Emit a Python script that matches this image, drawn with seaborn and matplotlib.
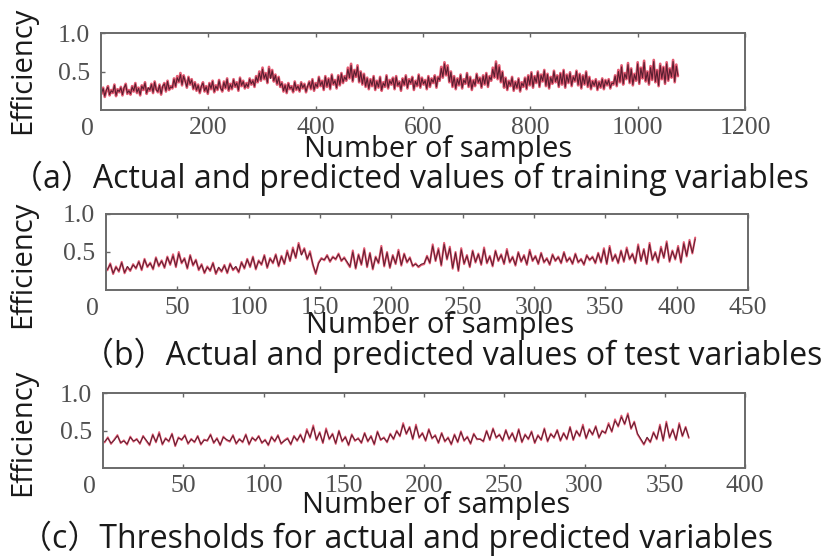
import numpy as np
import pandas as pd
import matplotlib
matplotlib.use("Agg")
import matplotlib.pyplot as plt
import seaborn as sns

# ---------------- data ----------------
step_a = 3
actual_a = [0.21, 0.29, 0.17, 0.25, 0.31, 0.19, 0.26, 0.22, 0.33, 0.18,
            0.27, 0.23, 0.30, 0.19, 0.28, 0.34, 0.21, 0.26, 0.20, 0.31,
            0.24, 0.35, 0.22, 0.29, 0.19, 0.32, 0.26, 0.36, 0.21, 0.28,
            0.25, 0.34, 0.22, 0.37, 0.27, 0.23, 0.33, 0.20, 0.30, 0.35,
            0.24, 0.38, 0.26, 0.31, 0.28, 0.41, 0.30, 0.44, 0.36, 0.48,
            0.32, 0.45, 0.38, 0.29, 0.43, 0.33, 0.40, 0.27, 0.36, 0.25,
            0.33, 0.22, 0.30, 0.36, 0.24, 0.31, 0.21, 0.35, 0.27, 0.38,
            0.23, 0.32, 0.26, 0.39, 0.29, 0.24, 0.37, 0.28, 0.41, 0.25,
            0.34, 0.27, 0.40, 0.30, 0.36, 0.25, 0.42, 0.31, 0.38, 0.28,
            0.35, 0.29, 0.41, 0.33, 0.39, 0.30, 0.44, 0.36, 0.50, 0.38,
            0.55, 0.40, 0.48, 0.35, 0.56, 0.42, 0.52, 0.37, 0.46, 0.33,
            0.43, 0.30, 0.36, 0.24, 0.33, 0.22, 0.35, 0.27, 0.31, 0.23,
            0.37, 0.26, 0.32, 0.24, 0.36, 0.28, 0.34, 0.23, 0.30, 0.37,
            0.27, 0.40, 0.25, 0.35, 0.29, 0.43, 0.31, 0.38, 0.26, 0.44,
            0.30, 0.41, 0.27, 0.46, 0.33, 0.39, 0.28, 0.45, 0.32, 0.48,
            0.35, 0.44, 0.38, 0.55, 0.41, 0.60, 0.37, 0.52, 0.43, 0.58,
            0.36, 0.50, 0.33, 0.47, 0.30, 0.42, 0.27, 0.40, 0.31, 0.44,
            0.26, 0.38, 0.29, 0.43, 0.25, 0.36, 0.30, 0.45, 0.28, 0.39,
            0.33, 0.42, 0.27, 0.44, 0.31, 0.37, 0.25, 0.41, 0.32, 0.45,
            0.28, 0.40, 0.34, 0.43, 0.26, 0.38, 0.31, 0.46, 0.29, 0.42,
            0.33, 0.39, 0.27, 0.44, 0.30, 0.41, 0.35, 0.45, 0.29, 0.43,
            0.38, 0.56, 0.42, 0.62, 0.45, 0.58, 0.36, 0.50, 0.30, 0.44,
            0.27, 0.41, 0.32, 0.46, 0.28, 0.40, 0.34, 0.48, 0.30, 0.43,
            0.26, 0.39, 0.31, 0.47, 0.35, 0.42, 0.29, 0.45, 0.33, 0.48,
            0.30, 0.44, 0.38, 0.55, 0.42, 0.63, 0.40, 0.58, 0.36, 0.50,
            0.29, 0.42, 0.26, 0.38, 0.31, 0.43, 0.25, 0.37, 0.28, 0.41,
            0.24, 0.36, 0.30, 0.42, 0.27, 0.45, 0.32, 0.49, 0.29, 0.44,
            0.35, 0.50, 0.30, 0.46, 0.37, 0.52, 0.31, 0.47, 0.28, 0.43,
            0.34, 0.51, 0.36, 0.45, 0.30, 0.48, 0.33, 0.52, 0.29, 0.46,
            0.35, 0.49, 0.31, 0.44, 0.37, 0.51, 0.32, 0.47, 0.28, 0.45,
            0.33, 0.50, 0.30, 0.43, 0.27, 0.38, 0.31, 0.40, 0.26, 0.37,
            0.29, 0.41, 0.27, 0.39, 0.32, 0.40, 0.28, 0.36, 0.33, 0.45,
            0.31, 0.52, 0.36, 0.58, 0.33, 0.48, 0.40, 0.61, 0.35, 0.54,
            0.32, 0.47, 0.38, 0.62, 0.34, 0.55, 0.41, 0.64, 0.37, 0.50,
            0.33, 0.57, 0.39, 0.65, 0.36, 0.52, 0.31, 0.60, 0.40, 0.56,
            0.34, 0.62, 0.38, 0.54, 0.42, 0.65, 0.36, 0.59, 0.44]
pred_a = [0.22, 0.28, 0.18, 0.26, 0.30, 0.20, 0.25, 0.23, 0.32, 0.19,
          0.26, 0.24, 0.29, 0.20, 0.29, 0.33, 0.22, 0.25, 0.21, 0.30,
          0.25, 0.34, 0.23, 0.28, 0.20, 0.31, 0.27, 0.35, 0.22, 0.29,
          0.26, 0.33, 0.23, 0.36, 0.26, 0.24, 0.32, 0.21, 0.31, 0.34,
          0.25, 0.37, 0.27, 0.30, 0.29, 0.40, 0.31, 0.42, 0.37, 0.46,
          0.33, 0.44, 0.37, 0.30, 0.42, 0.34, 0.39, 0.28, 0.35, 0.26,
          0.32, 0.23, 0.31, 0.35, 0.25, 0.30, 0.22, 0.34, 0.28, 0.37,
          0.24, 0.31, 0.27, 0.38, 0.28, 0.25, 0.36, 0.29, 0.40, 0.26,
          0.33, 0.28, 0.39, 0.31, 0.35, 0.26, 0.41, 0.32, 0.37, 0.29,
          0.34, 0.30, 0.40, 0.34, 0.38, 0.31, 0.43, 0.37, 0.48, 0.39,
          0.53, 0.41, 0.47, 0.36, 0.54, 0.41, 0.51, 0.38, 0.45, 0.34,
          0.42, 0.31, 0.35, 0.25, 0.32, 0.23, 0.34, 0.28, 0.30, 0.24,
          0.36, 0.27, 0.31, 0.25, 0.35, 0.29, 0.33, 0.24, 0.31, 0.36,
          0.28, 0.39, 0.26, 0.34, 0.30, 0.42, 0.32, 0.37, 0.27, 0.43,
          0.31, 0.40, 0.28, 0.45, 0.34, 0.38, 0.29, 0.44, 0.33, 0.47,
          0.36, 0.43, 0.39, 0.53, 0.42, 0.58, 0.38, 0.51, 0.44, 0.56,
          0.37, 0.49, 0.34, 0.46, 0.31, 0.41, 0.28, 0.39, 0.32, 0.43,
          0.27, 0.37, 0.30, 0.42, 0.26, 0.35, 0.31, 0.44, 0.29, 0.38,
          0.34, 0.41, 0.28, 0.43, 0.32, 0.36, 0.26, 0.40, 0.33, 0.44,
          0.29, 0.39, 0.35, 0.42, 0.27, 0.37, 0.32, 0.45, 0.30, 0.41,
          0.34, 0.38, 0.28, 0.43, 0.31, 0.40, 0.36, 0.44, 0.30, 0.42,
          0.39, 0.54, 0.43, 0.60, 0.46, 0.56, 0.37, 0.49, 0.31, 0.43,
          0.28, 0.40, 0.33, 0.45, 0.29, 0.39, 0.35, 0.47, 0.31, 0.42,
          0.27, 0.38, 0.32, 0.46, 0.36, 0.41, 0.30, 0.44, 0.34, 0.47,
          0.31, 0.43, 0.39, 0.53, 0.43, 0.61, 0.41, 0.56, 0.37, 0.49,
          0.30, 0.41, 0.27, 0.37, 0.32, 0.42, 0.26, 0.36, 0.29, 0.40,
          0.25, 0.35, 0.31, 0.41, 0.28, 0.44, 0.33, 0.48, 0.30, 0.43,
          0.36, 0.49, 0.31, 0.45, 0.38, 0.51, 0.32, 0.46, 0.29, 0.42,
          0.35, 0.50, 0.37, 0.44, 0.31, 0.47, 0.34, 0.51, 0.30, 0.45,
          0.36, 0.48, 0.32, 0.43, 0.38, 0.50, 0.33, 0.46, 0.29, 0.44,
          0.34, 0.49, 0.31, 0.42, 0.28, 0.37, 0.32, 0.39, 0.27, 0.36,
          0.30, 0.40, 0.28, 0.38, 0.33, 0.39, 0.29, 0.35, 0.34, 0.44,
          0.32, 0.50, 0.37, 0.56, 0.34, 0.47, 0.41, 0.59, 0.36, 0.53,
          0.33, 0.46, 0.39, 0.60, 0.35, 0.54, 0.42, 0.62, 0.38, 0.49,
          0.34, 0.55, 0.40, 0.63, 0.37, 0.51, 0.32, 0.58, 0.41, 0.55,
          0.35, 0.60, 0.39, 0.53, 0.43, 0.63, 0.37, 0.57, 0.45]

step_b = 2
actual_b = [0.26, 0.35, 0.21, 0.31, 0.24, 0.37, 0.22, 0.30, 0.25, 0.34,
            0.28, 0.38, 0.26, 0.41, 0.30, 0.36, 0.27, 0.43, 0.31, 0.39,
            0.29, 0.44, 0.33, 0.47, 0.30, 0.50, 0.35, 0.42, 0.28, 0.46,
            0.32, 0.40, 0.26, 0.34, 0.22, 0.31, 0.25, 0.36, 0.21, 0.29,
            0.24, 0.33, 0.22, 0.35, 0.26, 0.30, 0.23, 0.37, 0.28, 0.41,
            0.30, 0.44, 0.27, 0.39, 0.33, 0.46, 0.29, 0.42, 0.35, 0.47,
            0.31, 0.45, 0.34, 0.52, 0.38, 0.56, 0.42, 0.62, 0.47, 0.55,
            0.40, 0.51, 0.33, 0.21, 0.36, 0.42, 0.39, 0.46, 0.37, 0.44,
            0.40, 0.48, 0.38, 0.43, 0.36, 0.30, 0.52, 0.28, 0.47, 0.33,
            0.55, 0.30, 0.49, 0.27, 0.44, 0.35, 0.58, 0.31, 0.50, 0.29,
            0.46, 0.34, 0.53, 0.32, 0.48, 0.36, 0.43, 0.31, 0.35, 0.30,
            0.33, 0.34, 0.45, 0.35, 0.60, 0.38, 0.55, 0.32, 0.62, 0.40,
            0.57, 0.28, 0.50, 0.25, 0.55, 0.34, 0.46, 0.30, 0.52, 0.36,
            0.48, 0.33, 0.56, 0.35, 0.45, 0.31, 0.52, 0.38, 0.47, 0.34,
            0.54, 0.36, 0.44, 0.32, 0.50, 0.37, 0.46, 0.33, 0.53, 0.38,
            0.45, 0.34, 0.49, 0.36, 0.42, 0.33, 0.47, 0.38, 0.44, 0.35,
            0.50, 0.37, 0.43, 0.34, 0.48, 0.36, 0.41, 0.33, 0.46, 0.39,
            0.44, 0.35, 0.49, 0.36, 0.55, 0.34, 0.58, 0.38, 0.47, 0.35,
            0.52, 0.37, 0.56, 0.40, 0.48, 0.35, 0.60, 0.38, 0.54, 0.34,
            0.62, 0.39, 0.50, 0.36, 0.57, 0.42, 0.64, 0.37, 0.52, 0.40,
            0.58, 0.36, 0.63, 0.44, 0.66, 0.48, 0.69]
pred_b = [0.27, 0.34, 0.22, 0.30, 0.25, 0.36, 0.23, 0.31, 0.26, 0.33,
          0.29, 0.37, 0.27, 0.40, 0.31, 0.35, 0.28, 0.42, 0.32, 0.38,
          0.30, 0.43, 0.34, 0.45, 0.31, 0.48, 0.36, 0.41, 0.29, 0.45,
          0.33, 0.39, 0.27, 0.33, 0.23, 0.30, 0.26, 0.35, 0.22, 0.30,
          0.25, 0.32, 0.23, 0.34, 0.27, 0.31, 0.24, 0.36, 0.29, 0.40,
          0.31, 0.43, 0.28, 0.38, 0.34, 0.45, 0.30, 0.41, 0.36, 0.46,
          0.32, 0.44, 0.35, 0.50, 0.39, 0.54, 0.43, 0.60, 0.46, 0.54,
          0.41, 0.49, 0.34, 0.22, 0.35, 0.41, 0.40, 0.45, 0.38, 0.43,
          0.41, 0.47, 0.39, 0.42, 0.37, 0.31, 0.50, 0.29, 0.46, 0.34,
          0.53, 0.31, 0.48, 0.28, 0.43, 0.36, 0.56, 0.32, 0.49, 0.30,
          0.45, 0.35, 0.51, 0.33, 0.47, 0.37, 0.42, 0.32, 0.34, 0.31,
          0.34, 0.35, 0.44, 0.36, 0.58, 0.39, 0.53, 0.33, 0.60, 0.41,
          0.55, 0.29, 0.49, 0.26, 0.53, 0.35, 0.45, 0.31, 0.51, 0.37,
          0.47, 0.34, 0.54, 0.36, 0.44, 0.32, 0.51, 0.39, 0.46, 0.35,
          0.52, 0.37, 0.43, 0.33, 0.49, 0.38, 0.45, 0.34, 0.51, 0.39,
          0.44, 0.35, 0.48, 0.37, 0.41, 0.34, 0.46, 0.39, 0.43, 0.36,
          0.49, 0.38, 0.42, 0.35, 0.47, 0.37, 0.40, 0.34, 0.45, 0.40,
          0.43, 0.36, 0.48, 0.37, 0.53, 0.35, 0.56, 0.39, 0.46, 0.36,
          0.51, 0.38, 0.54, 0.41, 0.47, 0.36, 0.58, 0.39, 0.53, 0.35,
          0.60, 0.40, 0.49, 0.37, 0.55, 0.43, 0.62, 0.38, 0.51, 0.41,
          0.56, 0.37, 0.61, 0.45, 0.64, 0.49, 0.67]

step_c = 2
actual_c = [0.34, 0.41, 0.32, 0.38, 0.44, 0.33, 0.37, 0.31, 0.42, 0.35,
            0.39, 0.32, 0.43, 0.36, 0.30, 0.45, 0.34, 0.48, 0.31, 0.40,
            0.35, 0.46, 0.29, 0.41, 0.37, 0.44, 0.32, 0.39, 0.34, 0.43,
            0.31, 0.38, 0.36, 0.45, 0.33, 0.40, 0.30, 0.42, 0.37, 0.35,
            0.44, 0.32, 0.39, 0.34, 0.45, 0.31, 0.41, 0.36, 0.43, 0.33,
            0.38, 0.30, 0.42, 0.35, 0.44, 0.32, 0.37, 0.40, 0.31, 0.43,
            0.36, 0.45, 0.34, 0.52, 0.40, 0.57, 0.37, 0.48, 0.33, 0.53,
            0.38, 0.46, 0.32, 0.50, 0.35, 0.42, 0.30, 0.45, 0.36, 0.40,
            0.33, 0.47, 0.35, 0.43, 0.31, 0.49, 0.37, 0.41, 0.34, 0.46,
            0.38, 0.50, 0.42, 0.60, 0.45, 0.55, 0.38, 0.58, 0.40, 0.47,
            0.36, 0.52, 0.39, 0.44, 0.33, 0.47, 0.35, 0.41, 0.31, 0.45,
            0.34, 0.49, 0.36, 0.42, 0.32, 0.46, 0.38, 0.39, 0.35, 0.50,
            0.37, 0.53, 0.40, 0.45, 0.36, 0.51, 0.38, 0.47, 0.35, 0.52,
            0.34, 0.45, 0.38, 0.49, 0.33, 0.44, 0.37, 0.53, 0.35, 0.46,
            0.40, 0.51, 0.36, 0.47, 0.38, 0.55, 0.37, 0.50, 0.42, 0.58,
            0.39, 0.52, 0.44, 0.56, 0.40, 0.50, 0.46, 0.60, 0.48, 0.65,
            0.55, 0.70, 0.58, 0.73, 0.52, 0.62, 0.45, 0.38, 0.31, 0.40,
            0.34, 0.48, 0.38, 0.58, 0.36, 0.62, 0.40, 0.52, 0.37, 0.60,
            0.42, 0.55, 0.40]
pred_c = [0.35, 0.40, 0.33, 0.37, 0.43, 0.34, 0.36, 0.32, 0.41, 0.36,
          0.38, 0.33, 0.42, 0.37, 0.31, 0.44, 0.35, 0.46, 0.32, 0.39,
          0.36, 0.45, 0.30, 0.40, 0.38, 0.43, 0.33, 0.38, 0.35, 0.42,
          0.32, 0.37, 0.37, 0.44, 0.34, 0.39, 0.31, 0.41, 0.38, 0.36,
          0.43, 0.33, 0.38, 0.35, 0.44, 0.32, 0.40, 0.37, 0.42, 0.34,
          0.37, 0.31, 0.41, 0.36, 0.43, 0.33, 0.36, 0.39, 0.32, 0.42,
          0.37, 0.44, 0.35, 0.50, 0.41, 0.55, 0.38, 0.47, 0.34, 0.51,
          0.39, 0.45, 0.33, 0.49, 0.36, 0.41, 0.31, 0.44, 0.37, 0.39,
          0.34, 0.46, 0.36, 0.42, 0.32, 0.48, 0.38, 0.40, 0.35, 0.45,
          0.39, 0.49, 0.43, 0.58, 0.46, 0.54, 0.39, 0.56, 0.41, 0.46,
          0.37, 0.51, 0.40, 0.43, 0.34, 0.46, 0.36, 0.40, 0.32, 0.44,
          0.35, 0.48, 0.37, 0.41, 0.33, 0.45, 0.39, 0.38, 0.36, 0.49,
          0.38, 0.52, 0.41, 0.44, 0.37, 0.50, 0.39, 0.46, 0.36, 0.51,
          0.35, 0.44, 0.39, 0.48, 0.34, 0.43, 0.38, 0.52, 0.36, 0.45,
          0.41, 0.50, 0.37, 0.46, 0.39, 0.54, 0.38, 0.49, 0.43, 0.56,
          0.40, 0.51, 0.45, 0.55, 0.41, 0.49, 0.47, 0.58, 0.49, 0.63,
          0.56, 0.68, 0.59, 0.71, 0.53, 0.61, 0.46, 0.39, 0.32, 0.41,
          0.35, 0.47, 0.39, 0.56, 0.37, 0.60, 0.41, 0.51, 0.38, 0.58,
          0.43, 0.54, 0.41]

xticks_a = [200, 400, 600, 800, 1000, 1200]
xticks_b = [50, 100, 150, 200, 250, 300, 350, 400, 450]
xticks_c = [50, 100, 150, 200, 250, 300, 350, 400]
yticks = [0.5, 1.0]
ytick_labels = ["0.5", "1.0"]

captions = ["（a）Actual and predicted values of training variables",
            "（b）Actual and predicted values of test variables",
            "（c）Thresholds for actual and predicted variables"]
xlabel = "Number of samples"
ylabel = "Efficiency"

# ---------------- figure ----------------
sns.set_theme(style="white")
plt.rcParams["font.family"] = ["Open Sans", "Noto Sans CJK SC", "DejaVu Sans"]

W, H = 826, 557
fig = plt.figure(figsize=(W / 100, H / 100), dpi=100)

def fx(px):
    return px / W

def fy(py):
    return 1 - py / H

# axes boxes in pixels: left, top, right, bottom
boxes = [(101, 33, 745, 110), (106, 214, 748, 290), (103, 393, 745, 468)]
panels = [(step_a, actual_a, pred_a, 1200, xticks_a, 1.9, 0.8),
          (step_b, actual_b, pred_b, 450, xticks_b, 1.5, 0.7),
          (step_c, actual_c, pred_c, 400, xticks_c, 1.3, 0.7)]
xlabel_pos = [(438, 150), (440, 325), (436, 506)]
caption_pos = [(11, 178), (82, 355), (20, 538)]
ylabel_pos = [(23, 70), (23, 264), (23, 432)]

for (l, t, r, b), (step, act, pred, xmax, xt, lw_a, lw_p), xlp, cp, ylp, cap in zip(
        boxes, panels, xlabel_pos, caption_pos, ylabel_pos, captions):
    ax = fig.add_axes([fx(l), fy(b), fx(r) - fx(l), fy(t) - fy(b)])
    n = len(act)
    x = 1 + step * np.arange(n)
    df = pd.DataFrame({"sample": x, "actual": act, "predicted": pred})
    sns.lineplot(data=df, x="sample", y="actual", color="#e0405c",
                 linewidth=lw_a, alpha=0.85, ax=ax)
    sns.lineplot(data=df, x="sample", y="predicted", color="#5a1e30",
                 linewidth=lw_p, ax=ax)
    ax.set_xlim(0, xmax)
    ax.set_ylim(0, 1)
    ax.set_xticks(xt)
    ax.set_yticks(yticks)
    ax.set_xticklabels([str(v) for v in xt], family="Liberation Serif")
    ax.set_yticklabels(ytick_labels, family="Liberation Serif")
    ax.set_xlabel("")
    ax.set_ylabel("")
    ax.tick_params(axis="both", direction="in", length=3, width=1,
                   color="#666666", labelsize=18.5, labelcolor="#505050",
                   top=True, right=False, bottom=True, left=True)
    ax.tick_params(axis="x", pad=5)
    ax.tick_params(axis="y", pad=8)
    for s in ax.spines.values():
        s.set_color("#6a6a6a")
        s.set_linewidth(1.4)
    ax.annotate("0", xy=(0, 0), xycoords="axes fraction", xytext=(-5, -14),
                textcoords="offset points", ha="right", va="center",
                fontsize=18.5, color="#505050", family="Liberation Serif")
    fig.text(fx(xlp[0]), fy(xlp[1]), xlabel, ha="center", va="center",
             fontsize=21, color="#1a1a1a")
    fig.text(fx(ylp[0]), fy(ylp[1]), ylabel, ha="center", va="center",
             rotation=90, fontsize=21, color="#1a1a1a")
    fig.text(fx(cp[0]), fy(cp[1]), cap, ha="left", va="center",
             fontsize=23, color="#1a1a1a")

fig.savefig("out.png", dpi=100)
